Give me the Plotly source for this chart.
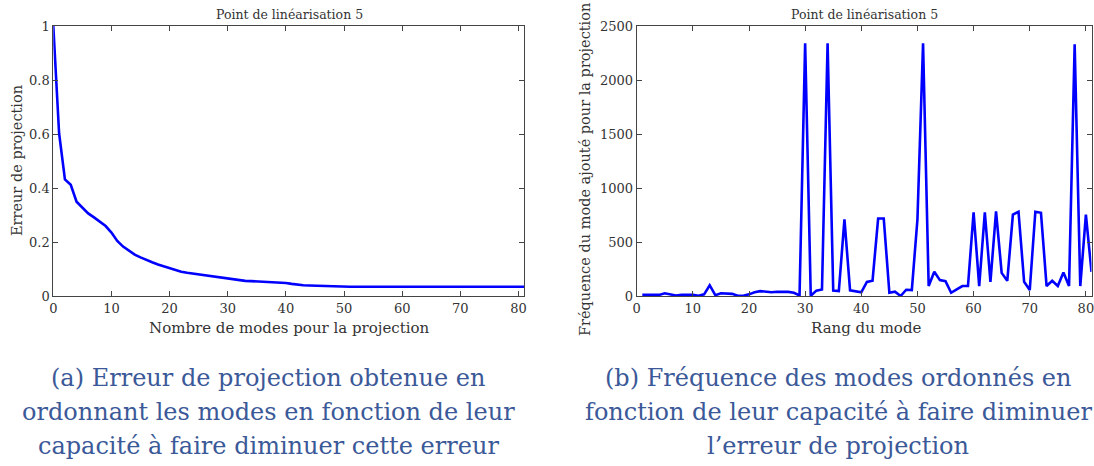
import plotly.graph_objects as go

# ---- data ----
modes_left = list(range(0, 82))
erreur = [1.0, 0.602, 0.432, 0.412, 0.349, 0.328, 0.306, 0.291, 0.275, 0.259,
          0.235, 0.204, 0.183, 0.168, 0.153, 0.143, 0.133, 0.125, 0.117, 0.110,
          0.104, 0.096, 0.090, 0.086, 0.083, 0.079, 0.075, 0.072, 0.069, 0.066,
          0.063, 0.061, 0.058, 0.056, 0.055, 0.054, 0.053, 0.052, 0.050, 0.049,
          0.048, 0.045, 0.042, 0.040, 0.039, 0.038, 0.037, 0.036, 0.035, 0.035,
          0.034, 0.034, 0.034, 0.034, 0.034, 0.034, 0.034, 0.034, 0.034, 0.034,
          0.034, 0.034, 0.034, 0.034, 0.034, 0.034, 0.034, 0.034, 0.034, 0.034,
          0.034, 0.034, 0.034, 0.034, 0.034, 0.034, 0.034, 0.034, 0.034, 0.034,
          0.034, 0.034]

rang = list(range(1, 82))
frequence = [10, 10, 12, 10, 25, 18, 5, 10, 12, 12,
             2, 15, 100, 8, 25, 22, 20, 2, 2, 15,
             35, 45, 40, 35, 40, 42, 38, 30, 5, 2340,
             2, 50, 60, 2340, 50, 45, 710, 52, 45, 34,
             131, 141, 717, 717, 30, 40, 0, 58, 55, 710,
             2340, 92, 224, 147, 138, 30, 62, 92, 92, 775,
             92, 775, 131, 784, 214, 141, 754, 780, 131, 55,
             780, 770, 92, 141, 92, 218, 92, 2330, 92, 754,
             224]

left_xticks = [0, 10, 20, 30, 40, 50, 60, 70, 80]
left_yticks = [0, 0.2, 0.4, 0.6, 0.8, 1]
left_yticklabels = ["0", "0.2", "0.4", "0.6", "0.8", "1"]
right_yticks = [0, 500, 1000, 1500, 2000, 2500]

title_txt = "Point de linéarisation 5"
caption_a = ["(a) Erreur de projection obtenue en",
             "ordonnant les modes en fonction de leur",
             "capacité à faire diminuer cette erreur"]
caption_b = ["(b) Fréquence des modes ordonnés en",
             "fonction de leur capacité à faire diminuer",
             "l’erreur de projection"]

# ---- figure ----
W, H = 1094, 466
FONT = "DejaVu Serif"
TXT = "#333333"
AX = "#444444"
BLUE = "#0000ff"
CAP = "#3b5998"

fig = go.Figure()
fig.add_trace(go.Scatter(x=modes_left, y=erreur, mode="lines",
                         line=dict(color=BLUE, width=2.6),
                         xaxis="x", yaxis="y", showlegend=False))
fig.add_trace(go.Scatter(x=rang, y=frequence, mode="lines",
                         line=dict(color=BLUE, width=2.6),
                         xaxis="x2", yaxis="y2", showlegend=False))

def px_x(p):
    return p / W

def px_y(p):
    return 1 - p / H

axis_common = dict(showline=True, linecolor=AX, linewidth=1, mirror="ticks",
                   ticks="inside", ticklen=5, tickcolor=AX, tickwidth=1,
                   showgrid=False, zeroline=False, automargin=False,
                   ticklabeloverflow="allow",
                   tickfont=dict(family=FONT, size=13, color=TXT))

ydom = [px_y(296), px_y(26)]
fig.update_layout(
    width=W, height=H,
    margin=dict(l=0, r=0, t=0, b=0),
    paper_bgcolor="white", plot_bgcolor="white",
    font=dict(family=FONT),
    xaxis=dict(domain=[px_x(53.3), px_x(524.3)], range=[0, 81],
               tickvals=left_xticks, anchor="y", **axis_common),
    yaxis=dict(domain=ydom, range=[0, 1], tickvals=left_yticks,
               ticktext=left_yticklabels, anchor="x", **axis_common),
    xaxis2=dict(domain=[px_x(636.7), px_x(1091.5)], range=[0, 81],
                tickvals=left_xticks, anchor="y2", **axis_common),
    yaxis2=dict(domain=ydom, range=[0, 2500], tickvals=right_yticks,
                anchor="x2", **axis_common),
)

def add_text(x, y, text, size, color=TXT, angle=0):
    fig.add_annotation(x=px_x(x), y=px_y(y), text=text, showarrow=False,
                       xref="paper", yref="paper", xanchor="center",
                       yanchor="middle", textangle=angle,
                       font=dict(family=FONT, size=size, color=color))

# subplot titles
add_text(289, 14, title_txt, 12.5)
add_text(864, 14, title_txt, 12.5)
# axis titles
add_text(289, 328, "Nombre de modes pour la projection", 15)
add_text(866, 328, "Rang du mode", 15)
add_text(17, 161, "Erreur de projection", 14.5, angle=-90)
add_text(585, 170, "Fréquence du mode ajouté pour la projection", 14.5, angle=-90)
# captions
for i, line in enumerate(caption_a):
    add_text(268, 378 + 34 * i, line, 24, color=CAP)
for i, line in enumerate(caption_b):
    add_text(838, 378 + 34 * i, line, 24, color=CAP)

fig.write_html("out.html", config={"displayModeBar": False},
               post_script="document.body.style.margin='0px';")
